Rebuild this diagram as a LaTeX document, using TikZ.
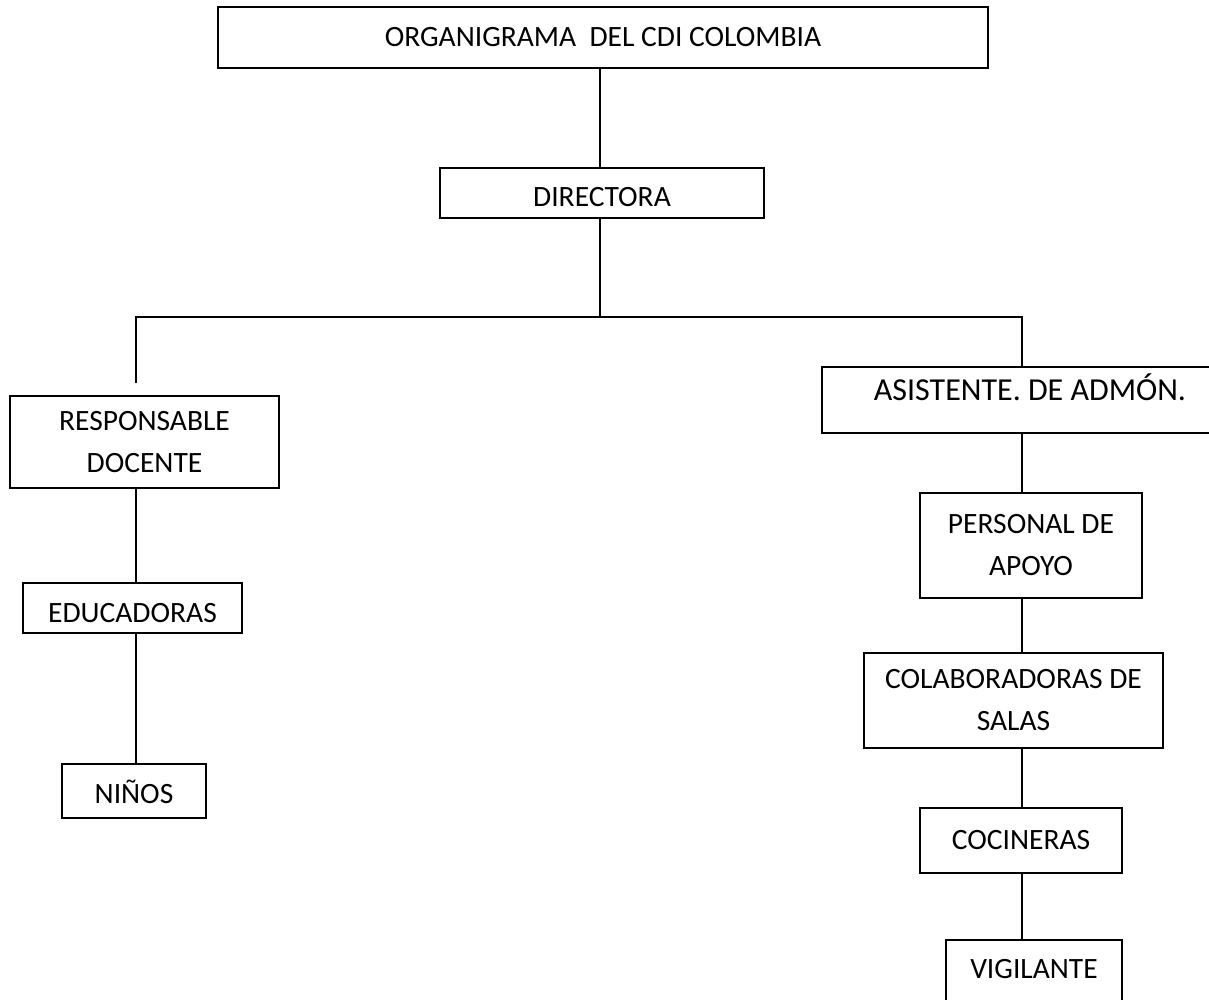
\documentclass[tikz,border=0pt]{standalone}
\usepackage{fontspec}
\setmainfont{Carlito}
\begin{document}
\begin{tikzpicture}[x=1pt,y=-1pt,
  box/.style={draw=black, line width=2pt, rectangle, inner sep=0pt, align=center,
    font=\fontsize{29.5}{42}\selectfont},
  conn/.style={draw=black, line width=2pt}]
\useasboundingbox (0,0) rectangle (1209,999);
\fill[white] (0,0) rectangle (1209,999);
% boxes
\node[box, minimum width=770pt, minimum height=61pt] (title) at (603,37.5) {ORGANIGRAMA\ \ DEL CDI COLOMBIA};
\node[box, minimum width=324pt, minimum height=50pt, text height=26.3pt, text depth=0pt] (dir) at (602,193) {DIRECTORA};
\node[box, minimum width=269pt, minimum height=92pt] (resp) at (144.5,442) {RESPONSABLE\\DOCENTE};
\node[box, minimum width=219pt, minimum height=50pt, text height=28.3pt, text depth=0pt] (educ) at (132.5,608) {EDUCADORAS};
\node[box, minimum width=144pt, minimum height=54pt, text height=24.3pt, text depth=0pt] (ninos) at (134,791) {NIÑOS};
\node[box, font=\fontsize{32}{42}\selectfont, minimum width=416pt, minimum height=66pt, text height=19.8pt, text depth=18pt] (asist) at (1030,400) {ASISTENTE. DE ADMÓN.};
\node[box, minimum width=222pt, minimum height=105pt] (pers) at (1031,545.5) {PERSONAL DE\\APOYO};
\node[box, minimum width=299pt, minimum height=95pt] (colab) at (1013.5,700.5) {COLABORADORAS DE\\SALAS};
\node[box, minimum width=202pt, minimum height=65pt, text height=18.3pt, text depth=0pt] (cocin) at (1021,840.5) {COCINERAS};
\node[box, minimum width=176pt, minimum height=70pt, text height=18.3pt, text depth=12pt] (vig) at (1034,975) {VIGILANTE};
% coordinates
\coordinate (C) at (600,0);
\coordinate (L) at (136,0);
\coordinate (R) at (1022,0);
\coordinate (J) at (600,317);
\coordinate (JL) at (136,317);
\coordinate (JR) at (1022,317);
\coordinate (LE) at (136,383);
% connectors
\draw[conn] (title.south -| C) -- (dir.north -| C);
\draw[conn] (dir.south -| C) -- (J);
\draw[conn] (LE) -- (JL) -- (JR) -- (asist.north -| R);
\draw[conn] (resp.south -| L) -- (educ.north -| L);
\draw[conn] (educ.south -| L) -- (ninos.north -| L);
\draw[conn] (asist.south -| R) -- (pers.north -| R);
\draw[conn] (pers.south -| R) -- (colab.north -| R);
\draw[conn] (colab.south -| R) -- (cocin.north -| R);
\draw[conn] (cocin.south -| R) -- (vig.north -| R);
\end{tikzpicture}
\end{document}
